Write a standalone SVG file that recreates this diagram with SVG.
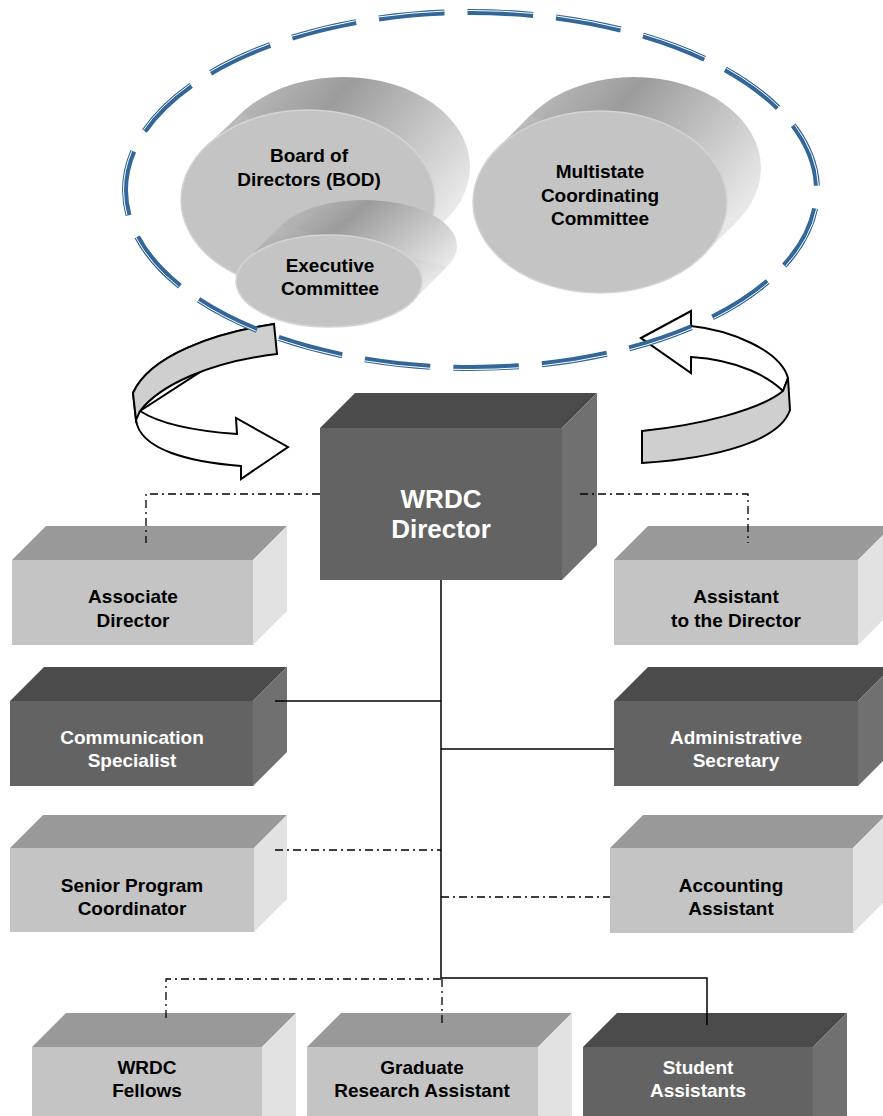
<svg xmlns="http://www.w3.org/2000/svg" width="883" height="1116" viewBox="0 0 883 1116">
<style>
.t{font-family:"Liberation Sans",Arial,sans-serif;font-weight:bold;font-size:19px;text-anchor:middle}
.tb{fill:#000}
.tw{fill:#fff}
.lf{fill:#c4c4c4}
.lt{fill:#999999}
.ls{fill:#e2e2e2}
.df{fill:#636363}
.dt{fill:#4b4b4b}
.ds{fill:#707070}
.cf{fill:#c4c4c4;stroke:#d4d4d4;stroke-width:1.5}
.cs{fill:url(#cylg)}
.solid{fill:none;stroke:#000;stroke-width:1.5}
.dash{fill:none;stroke:#000;stroke-width:1.3;stroke-dasharray:8 4 2 4}
.arr{stroke:#000;stroke-width:2;stroke-linejoin:miter}
.ring{fill:none;stroke-dasharray:74 26;stroke-dashoffset:79}
</style>
<defs>
<linearGradient id="cylg" x1="0" y1="0" x2="1" y2="0.6">
<stop offset="0" stop-color="#c6c6c6"/>
<stop offset="0.4" stop-color="#9c9c9c"/>
<stop offset="1" stop-color="#e8e8e8"/>
</linearGradient>
</defs>
<rect width="883" height="1116" fill="#fff"/>

<!-- cycle arrows -->
<g id="cycle-arrows">
<path class="arr" fill="#fff" d="M274,324 C215,333 150,355 133,393 L136,420 C140,450 190,462 241,466 L241,479 L288,447 L236,418 L237,434 C195,431 160,424 140,411 Z"/>
<path class="arr" fill="#cfcfcf" d="M274,324 C215,333 150,355 133,393 L136,420 L140,411 C160,385 210,362 277,354 Z"/>
<path class="arr" fill="#fff" d="M641,338 L691,311 L691,326 C730,330 780,350 788,378 L783,391 C770,378 740,360 691,357 L691,373 Z"/>
<path class="arr" fill="#cfcfcf" d="M788,378 L790,410 C780,440 720,458 642,463 L642,431 C700,425 760,410 783,391 Z"/>
</g>

<!-- dashed boundary -->
<g id="group-boundary">
<ellipse class="ring" cx="471" cy="190" rx="346" ry="178" stroke="#336699" stroke-width="6" pathLength="1900"/>
<ellipse class="ring" cx="471" cy="190" rx="347.5" ry="179.5" stroke="#fff" stroke-width="1" pathLength="1900"/>
</g>

<g id="node-bod">
<ellipse class="cs" cx="343" cy="167" rx="127" ry="90"/>
<polygon class="cs" points="409.5,254.1 444.5,221.1 241.5,112.9 206.5,145.9"/>
<ellipse class="cf" cx="308" cy="200" rx="127" ry="90"/>
<text class="t tb" x="309" y="162">Board of</text>
<text class="t tb" x="309" y="186">Directors (BOD)</text>
</g>

<g id="node-mcc">
<ellipse class="cs" cx="634" cy="168" rx="127" ry="91"/>
<polygon class="cs" points="703.3,255 737.3,221 530.7,115 496.7,149"/>
<ellipse class="cf" cx="600" cy="202" rx="127" ry="91"/>
<text class="t tb" x="600" y="178">Multistate</text>
<text class="t tb" x="600" y="202">Coordinating</text>
<text class="t tb" x="600" y="225">Committee</text>
</g>

<g id="node-exec">
<ellipse class="cs" cx="364" cy="246" rx="93" ry="46"/>
<polygon class="cs" points="412.4,301.4 447.4,266.4 280.6,225.6 245.6,260.6"/>
<ellipse class="cf" cx="329" cy="281" rx="93" ry="46"/>
<text class="t tb" x="330" y="272">Executive</text>
<text class="t tb" x="330" y="295">Committee</text>
</g>

<g id="node-director">
<polygon class="dt" points="320,428 355,393 597,393 562,428"/>
<polygon class="ds" points="562,428 597,393 597,545 562,580"/>
<rect class="df" x="320" y="428" width="242" height="152"/>
<text class="t tw" style="font-size:26px" x="441" y="508">WRDC</text>
<text class="t tw" style="font-size:26px" x="441" y="538">Director</text>
</g>

<g id="node-associate">
<polygon class="lt" points="12,560 46,526 287,526 253,560"/>
<polygon class="ls" points="253,560 287,526 287,611 253,645"/>
<rect class="lf" x="12" y="560" width="241" height="85"/>
<text class="t tb" x="133" y="603">Associate</text>
<text class="t tb" x="133" y="627">Director</text>
</g>

<g id="node-assistant">
<polygon class="lt" points="614,560 648,526 892,526 858,560"/>
<polygon class="ls" points="858,560 892,526 892,611 858,645"/>
<rect class="lf" x="614" y="560" width="244" height="85"/>
<text class="t tb" x="736" y="603">Assistant</text>
<text class="t tb" x="736" y="627">to the Director</text>
</g>

<g id="node-communication">
<polygon class="dt" points="10,701 44,667 287,667 253,701"/>
<polygon class="ds" points="253,701 287,667 287,752 253,786"/>
<rect class="df" x="10" y="701" width="243" height="85"/>
<text class="t tw" x="132" y="744">Communication</text>
<text class="t tw" x="132" y="767">Specialist</text>
</g>

<g id="node-admin">
<polygon class="dt" points="614,701 648,667 892,667 858,701"/>
<polygon class="ds" points="858,701 892,667 892,752 858,786"/>
<rect class="df" x="614" y="701" width="244" height="85"/>
<text class="t tw" x="736" y="744">Administrative</text>
<text class="t tw" x="736" y="767">Secretary</text>
</g>

<g id="node-senior">
<polygon class="lt" points="10,848 43,815 287,815 254,848"/>
<polygon class="ls" points="254,848 287,815 287,899 254,932"/>
<rect class="lf" x="10" y="848" width="244" height="84"/>
<text class="t tb" x="132" y="892">Senior Program</text>
<text class="t tb" x="132" y="915">Coordinator</text>
</g>

<g id="node-accounting">
<polygon class="lt" points="610,848 643,815 886,815 853,848"/>
<polygon class="ls" points="853,848 886,815 886,900 853,933"/>
<rect class="lf" x="610" y="848" width="243" height="85"/>
<text class="t tb" x="731" y="892">Accounting</text>
<text class="t tb" x="731" y="915">Assistant</text>
</g>

<g id="node-fellows">
<polygon class="lt" points="32,1047 66,1013 296,1013 262,1047"/>
<polygon class="ls" points="262,1047 296,1013 296,1116 262,1116"/>
<rect class="lf" x="32" y="1047" width="230" height="69"/>
<text class="t tb" x="147" y="1074">WRDC</text>
<text class="t tb" x="147" y="1097">Fellows</text>
</g>

<g id="node-graduate">
<polygon class="lt" points="307,1047 341,1013 572,1013 538,1047"/>
<polygon class="ls" points="538,1047 572,1013 572,1116 538,1116"/>
<rect class="lf" x="307" y="1047" width="231" height="69"/>
<text class="t tb" x="422" y="1074">Graduate</text>
<text class="t tb" x="422" y="1097">Research Assistant</text>
</g>

<g id="node-student">
<polygon class="dt" points="583,1047 617,1013 847,1013 813,1047"/>
<polygon class="ds" points="813,1047 847,1013 847,1116 813,1116"/>
<rect class="df" x="583" y="1047" width="230" height="69"/>
<text class="t tw" x="698" y="1074">Student</text>
<text class="t tw" x="698" y="1097">Assistants</text>
</g>

<g id="connectors">
<polyline class="dash" points="320,494 146,494 146,543"/>
<polyline class="dash" points="580,494 748,494 748,543"/>
<line class="solid" x1="441" y1="580" x2="441" y2="978"/>
<line class="solid" x1="275" y1="701" x2="441" y2="701"/>
<line class="solid" x1="441" y1="749" x2="614" y2="749"/>
<line class="dash" x1="275" y1="850" x2="441" y2="850"/>
<line class="dash" x1="441" y1="897" x2="610" y2="897"/>
<polyline class="dash" points="441,979 166,979 166,1020"/>
<line class="dash" x1="442" y1="979" x2="442" y2="1025"/>
<polyline class="solid" points="441,978 707,978 707,1025"/>
</g>
</svg>
